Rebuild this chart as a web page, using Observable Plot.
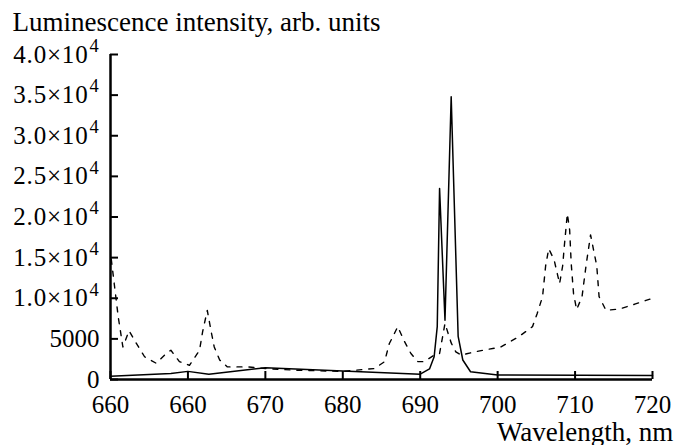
<!DOCTYPE html>
<html>
<head>
<meta charset="utf-8">
<script src="https://cdn.jsdelivr.net/npm/d3@7"></script>
<script src="https://cdn.jsdelivr.net/npm/@observablehq/plot@0.6"></script>
<style>
  html, body { margin: 0; padding: 0; background: #fff; }
  #chart svg { display: block; }
</style>
</head>
<body>
<div id="chart"></div>
<script>
// Solid curve
const solidWavelength = [650, 657.8, 660, 662.7, 670, 680, 690, 691.2, 691.8, 692.2, 692.5, 693.2, 694.0, 694.9, 695.5, 696.5, 700, 720];
const solidIntensity  = [400, 750, 1000, 650, 1450, 1050, 650, 1300, 2800, 6500, 23500, 7300, 34800, 5300, 2400, 950, 550, 500];

// Dashed curve
const dashedWavelength = [650.1, 651.0, 651.6, 652.4, 653.3, 654.4, 655.9, 657.2, 657.8, 658.9, 660.2, 661.5, 661.9, 662.5, 663.0, 663.4, 664.1, 665.1, 667.7, 670, 673.7, 680, 684.1, 685.4, 686.0, 687.1, 687.9, 688.8, 689.7, 690.5, 691.8, 692.5, 693.2, 694.0, 694.6, 695.3, 697.0, 700.4, 702.7, 704.5, 705.1, 705.8, 706.2, 706.6, 707.3, 708.0, 708.4, 708.6, 709.0, 709.3, 709.5, 709.8, 710.2, 710.9, 711.4, 712.0, 712.8, 713.1, 714.0, 715.8, 717.8, 720];
const dashedIntensity  = [14800, 7700, 4000, 6000, 4500, 2800, 2000, 3200, 3600, 2200, 1750, 3600, 5900, 8500, 5900, 4000, 2400, 1550, 1550, 1350, 1150, 1000, 1350, 2200, 4400, 6500, 4800, 3200, 2200, 2200, 3000, 3200, 6900, 4500, 3400, 3000, 3400, 4000, 5250, 6500, 8100, 10200, 14000, 16100, 14700, 11800, 14000, 16300, 20400, 18400, 14300, 10600, 8600, 10200, 13900, 17800, 14000, 10200, 8500, 8700, 9300, 10000];

// Axes
const xTicks = [650, 660, 670, 680, 690, 700, 710, 720];
const xTickLabels = ["660", "660", "670", "680", "690", "700", "710", "720"];
const yTicks = [0, 5000, 10000, 15000, 20000, 25000, 30000, 35000, 40000];
const yTickLabels = ["0", "5000", "1.0×10^4", "1.5×10^4", "2.0×10^4", "2.5×10^4", "3.0×10^4", "3.5×10^4", "4.0×10^4"];
const yTitle = "Luminescence intensity, arb. units";
const xTitle = "Wavelength, nm";

const solid = solidWavelength.map((w, i) => ({w, v: solidIntensity[i]}));
const dashed = dashedWavelength.map((w, i) => ({w, v: dashedIntensity[i]}));

const serif = "'Liberation Serif', 'Times New Roman', serif";

const chart = Plot.plot({
  width: 674,
  height: 445,
  marginLeft: 110,
  marginRight: 22,
  marginTop: 54,
  marginBottom: 66,
  style: {fontSize: "25px", color: "#000", background: "#fff"},
  x: {domain: [650, 720]},
  y: {domain: [0, 40000]},
  marks: [
    Plot.line(dashed, {x: "w", y: "v", stroke: "#000", strokeWidth: 1.4, strokeDasharray: "5,7", curve: "linear"}),
    Plot.line(solid, {x: "w", y: "v", stroke: "#000", strokeWidth: 1.5, curve: "linear"}),
    Plot.ruleX([650], {stroke: "#000", strokeWidth: 2.5}),
    Plot.ruleY([0], {stroke: "#000", strokeWidth: 2.5}),
    Plot.axisY({ticks: yTicks, anchor: "left", tickSize: 8, dx: 8, tickPadding: 11, strokeWidth: 2, label: null,
      tickFormat: d => yTickLabels[yTicks.indexOf(d)]}),
    Plot.axisX({ticks: xTicks, anchor: "bottom", tickSize: 8, dy: -8, tickPadding: 16, strokeWidth: 2, label: null,
      tickFormat: d => xTickLabels[xTicks.indexOf(d)]}),
    Plot.text([yTitle], {text: d => d, frameAnchor: "top-left", textAnchor: "start", lineAnchor: "bottom", dx: -98, dy: -24, fontSize: 27}),
    Plot.text([xTitle], {text: d => d, frameAnchor: "bottom-right", textAnchor: "end", lineAnchor: "bottom", dx: 20.7, dy: 61, fontSize: 27})
  ]
});

d3.select(chart).attr("font-family", serif).style("font-family", serif);

// Render exponents as superscripts
d3.select(chart).selectAll("text").each(function() {
  const sel = d3.select(this);
  sel.attr("font-family", serif);
  const t = this.textContent;
  if (t.includes("^")) {
    const [base, exp] = t.split("^");
    sel.text(null).attr("letter-spacing", "0.8px");
    sel.append("tspan").text(base);
    sel.append("tspan").attr("font-size", "0.74em").attr("dy", "-0.58em").attr("dx", "1").text(exp);
  }
});

document.getElementById("chart").appendChild(chart);
</script>
</body>
</html>
